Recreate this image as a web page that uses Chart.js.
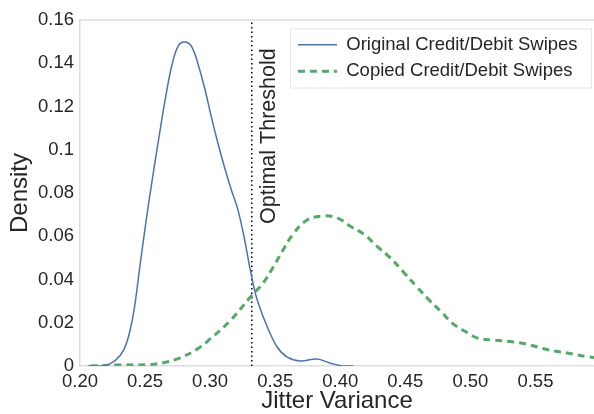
<!DOCTYPE html>
<html>
<head>
<meta charset="utf-8">
<script src="https://cdn.jsdelivr.net/npm/chart.js@4/dist/chart.umd.min.js"></script>
<style>
  html, body { margin: 0; padding: 0; background: #ffffff; }
  #wrap { width: 594px; height: 414px; }
</style>
</head>
<body>
<div id="wrap"><canvas id="chart" width="594" height="414"></canvas></div>
<script>
// Density curves
const originalX = [0.206, 0.215, 0.223, 0.231, 0.236, 0.241, 0.246, 0.251, 0.256, 0.261, 0.266, 0.271, 0.276, 0.281, 0.286, 0.291, 0.296, 0.301, 0.306, 0.311, 0.316, 0.321, 0.326, 0.331, 0.336, 0.344, 0.3515, 0.359, 0.369, 0.382, 0.392, 0.402, 0.410];
const originalY = [0, 0, 0.001, 0.005, 0.011, 0.024, 0.046, 0.068, 0.088, 0.107, 0.125, 0.140, 0.1485, 0.1498, 0.1475, 0.139, 0.128, 0.115, 0.103, 0.092, 0.082, 0.073, 0.060, 0.044, 0.031, 0.018, 0.0088, 0.0042, 0.0023, 0.0032, 0.0014, 0, 0];

const copiedX = [0.208, 0.231, 0.2515, 0.264, 0.277, 0.290, 0.300, 0.3155, 0.331, 0.341, 0.3485, 0.356, 0.364, 0.3745, 0.387, 0.398, 0.408, 0.418, 0.4285, 0.4385, 0.4485, 0.459, 0.4675, 0.477, 0.487, 0.498, 0.5055, 0.5175, 0.533, 0.546, 0.559, 0.5745, 0.590, 0.605];
const copiedY = [0, 0.0005, 0.0006, 0.0015, 0.0038, 0.0078, 0.0125, 0.0210, 0.0319, 0.0386, 0.0458, 0.0536, 0.0612, 0.0675, 0.0694, 0.0684, 0.0645, 0.0610, 0.0552, 0.0500, 0.0435, 0.0365, 0.0310, 0.0254, 0.0194, 0.0153, 0.0129, 0.0120, 0.0111, 0.0097, 0.0076, 0.0060, 0.0043, 0.0033];

const thresholdX = 0.332;
const thresholdLabel = 'Optimal Threshold';

const xTicks = [0.20, 0.25, 0.30, 0.35, 0.40, 0.45, 0.50, 0.55];
const yTicks = [0, 0.02, 0.04, 0.06, 0.08, 0.1, 0.12, 0.14, 0.16];

const FONT = "'Liberation Sans', Arial, sans-serif";
const TEXT = '#262626';
const SPINE = '#dddddd';

function toPoints(xs, ys) {
  return xs.map((x, i) => ({ x: x, y: ys[i] }));
}

// Threshold label, top spine, legend placement and frame
const extrasPlugin = {
  id: 'extras',
  afterLayout(chart) {
    // move the legend to the upper right of the plot
    const lg = chart.legend;
    lg.left = 290;
    lg.top = 27.5;
  },
  afterDatasetsDraw(chart) {
    const ctx = chart.ctx;
    const area = chart.chartArea;
    const px = chart.scales.x.getPixelForValue(thresholdX);

    ctx.save();
    ctx.translate(px + 17.5, 224);
    ctx.rotate(-Math.PI / 2);
    ctx.font = '21.5px ' + FONT;
    ctx.fillStyle = TEXT;
    ctx.textAlign = 'left';
    ctx.textBaseline = 'middle';
    ctx.fillText(thresholdLabel, 0, 0);
    ctx.restore();

    // top spine
    ctx.save();
    ctx.strokeStyle = SPINE;
    ctx.lineWidth = 1.5;
    ctx.beginPath();
    ctx.moveTo(area.left, area.top);
    ctx.lineTo(area.right, area.top);
    ctx.stroke();
    ctx.restore();
  },
  afterDraw(chart) {
    // legend frame
    const lg = chart.legend;
    const ctx = chart.ctx;
    ctx.save();
    ctx.strokeStyle = '#e6e6e6';
    ctx.lineWidth = 1;
    ctx.strokeRect(lg.left + 0.5, lg.top + 1.5, 301, 59);
    ctx.restore();
  }
};

new Chart(document.getElementById('chart'), {
  type: 'line',
  data: {
    datasets: [
      {
        label: 'Original Credit/Debit Swipes',
        data: toPoints(originalX, originalY),
        borderColor: '#4c72b0',
        backgroundColor: '#4c72b0',
        borderWidth: 1.5,
        pointRadius: 0,
        tension: 0.4,
        fill: false
      },
      {
        label: 'Copied Credit/Debit Swipes',
        data: toPoints(copiedX, copiedY),
        borderColor: '#55a868',
        backgroundColor: '#55a868',
        borderWidth: 3,
        borderDash: [7, 5],
        pointRadius: 0,
        tension: 0.4,
        fill: false
      },
      {
        label: 'threshold',
        data: [{ x: thresholdX, y: yTicks[0] }, { x: thresholdX, y: yTicks[yTicks.length - 1] }],
        borderColor: '#000000',
        borderWidth: 1.5,
        borderDash: [1.5, 3],
        pointRadius: 0,
        fill: false
      }
    ]
  },
  options: {
    responsive: false,
    animation: false,
    layout: { padding: { top: 20, right: 0, left: 0, bottom: 0 } },
    plugins: {
      legend: {
        position: 'chartArea',
        align: 'start',
        labels: {
          usePointStyle: true,
          pointStyle: 'line',
          pointStyleWidth: 39,
          padding: 8,
          color: TEXT,
          font: { family: FONT, size: 18.5 },
          generateLabels: (chart) => {
            const items = Chart.defaults.plugins.legend.labels.generateLabels(chart);
            return items.filter(item => item.datasetIndex !== 2).map(item => {
              const ds = chart.data.datasets[item.datasetIndex];
              item.pointStyle = 'line';
              item.strokeStyle = ds.borderColor;
              item.lineWidth = ds.borderWidth;
              item.lineDash = ds.borderDash || [];
              return item;
            });
          }
        }
      },
      tooltip: { enabled: false }
    },
    scales: {
      x: {
        type: 'linear',
        min: xTicks[0],
        max: 0.595,
        afterFit: (scale) => { scale.height = 48; },
        afterBuildTicks: (scale) => { scale.ticks = xTicks.map(v => ({ value: v })); },
        grid: { display: false, drawTicks: false },
        border: { display: true, color: SPINE, width: 1.5 },
        ticks: {
          padding: 5,
          color: TEXT,
          font: { family: FONT, size: 18.5 },
          maxRotation: 0,
          callback: (v) => Number(v).toFixed(2)
        },
        title: {
          display: true,
          text: 'Jitter Variance',
          color: TEXT,
          font: { family: FONT, size: 24, lineHeight: 1 },
          padding: { top: 0, bottom: 1 }
        }
      },
      y: {
        min: yTicks[0],
        max: yTicks[yTicks.length - 1],
        afterFit: (scale) => { scale.width = 80; },
        afterBuildTicks: (scale) => { scale.ticks = yTicks.map(v => ({ value: v })); },
        grid: { display: false, drawTicks: false },
        border: { display: true, color: SPINE, width: 1.5 },
        ticks: {
          padding: 6,
          color: TEXT,
          font: { family: FONT, size: 18.5 },
          callback: (v) => v === 0 ? '0' : String(parseFloat(Number(v).toFixed(2)))
        },
        title: {
          display: true,
          text: 'Density',
          color: TEXT,
          font: { family: FONT, size: 24, lineHeight: 1 },
          padding: { top: 8, bottom: 0 }
        }
      }
    }
  },
  plugins: [extrasPlugin]
});
</script>
</body>
</html>
